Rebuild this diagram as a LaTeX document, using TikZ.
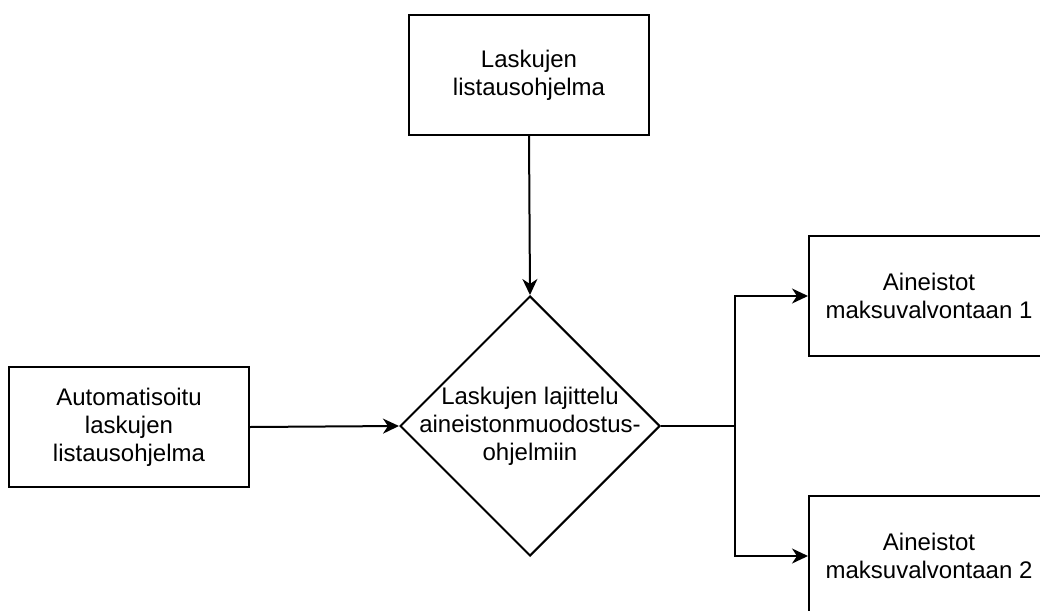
\documentclass[tikz,border=0pt]{standalone}
\usepackage{fontspec}
\setmainfont{Liberation Sans}
\usetikzlibrary{arrows.meta,shapes.geometric}
\begin{document}
\begin{tikzpicture}[x=1pt,y=-1pt,
  every node/.style={font=\fontsize{24}{28}\selectfont, align=center},
  box/.style={draw, line width=2pt, minimum width=240pt, minimum height=120pt, inner sep=0pt},
  decision/.style={draw, diamond, line width=2pt, minimum width=260pt, minimum height=260pt, inner sep=0pt, aspect=1},
  flow/.style={line width=2pt, -{Stealth[length=16pt,width=15pt,inset=5pt]}}]
  \clip (0,0) rectangle (1040,610);
  \useasboundingbox (0,0) rectangle (1040,610);

  % process boxes
  \node[box] (src) at (529,75) {Laskujen\\listausohjelma};
  \node[box] (auto) at (129,427) {Automatisoitu\\laskujen\\listausohjelma};
  \node[decision, label={[align=center]center:Laskujen lajittelu\\aineistonmuodostus-\\ohjelmiin}] (sort) at (530,426) {};
  \node[box] (out1) at (929,296) {Aineistot\\maksuvalvontaan 1};
  \node[box] (out2) at (929,556) {Aineistot\\maksuvalvontaan 2};

  % branch point to the two outputs
  \coordinate (split) at (735,426);

  % connectors
  \draw[flow] (src.south) -- (sort.north);
  \draw[flow] (auto.east) -- (sort.west);
  \draw[flow] (sort.east) -- (split) |- (out1.west);
  \draw[flow] (split) |- (out2.west);
\end{tikzpicture}
\end{document}
